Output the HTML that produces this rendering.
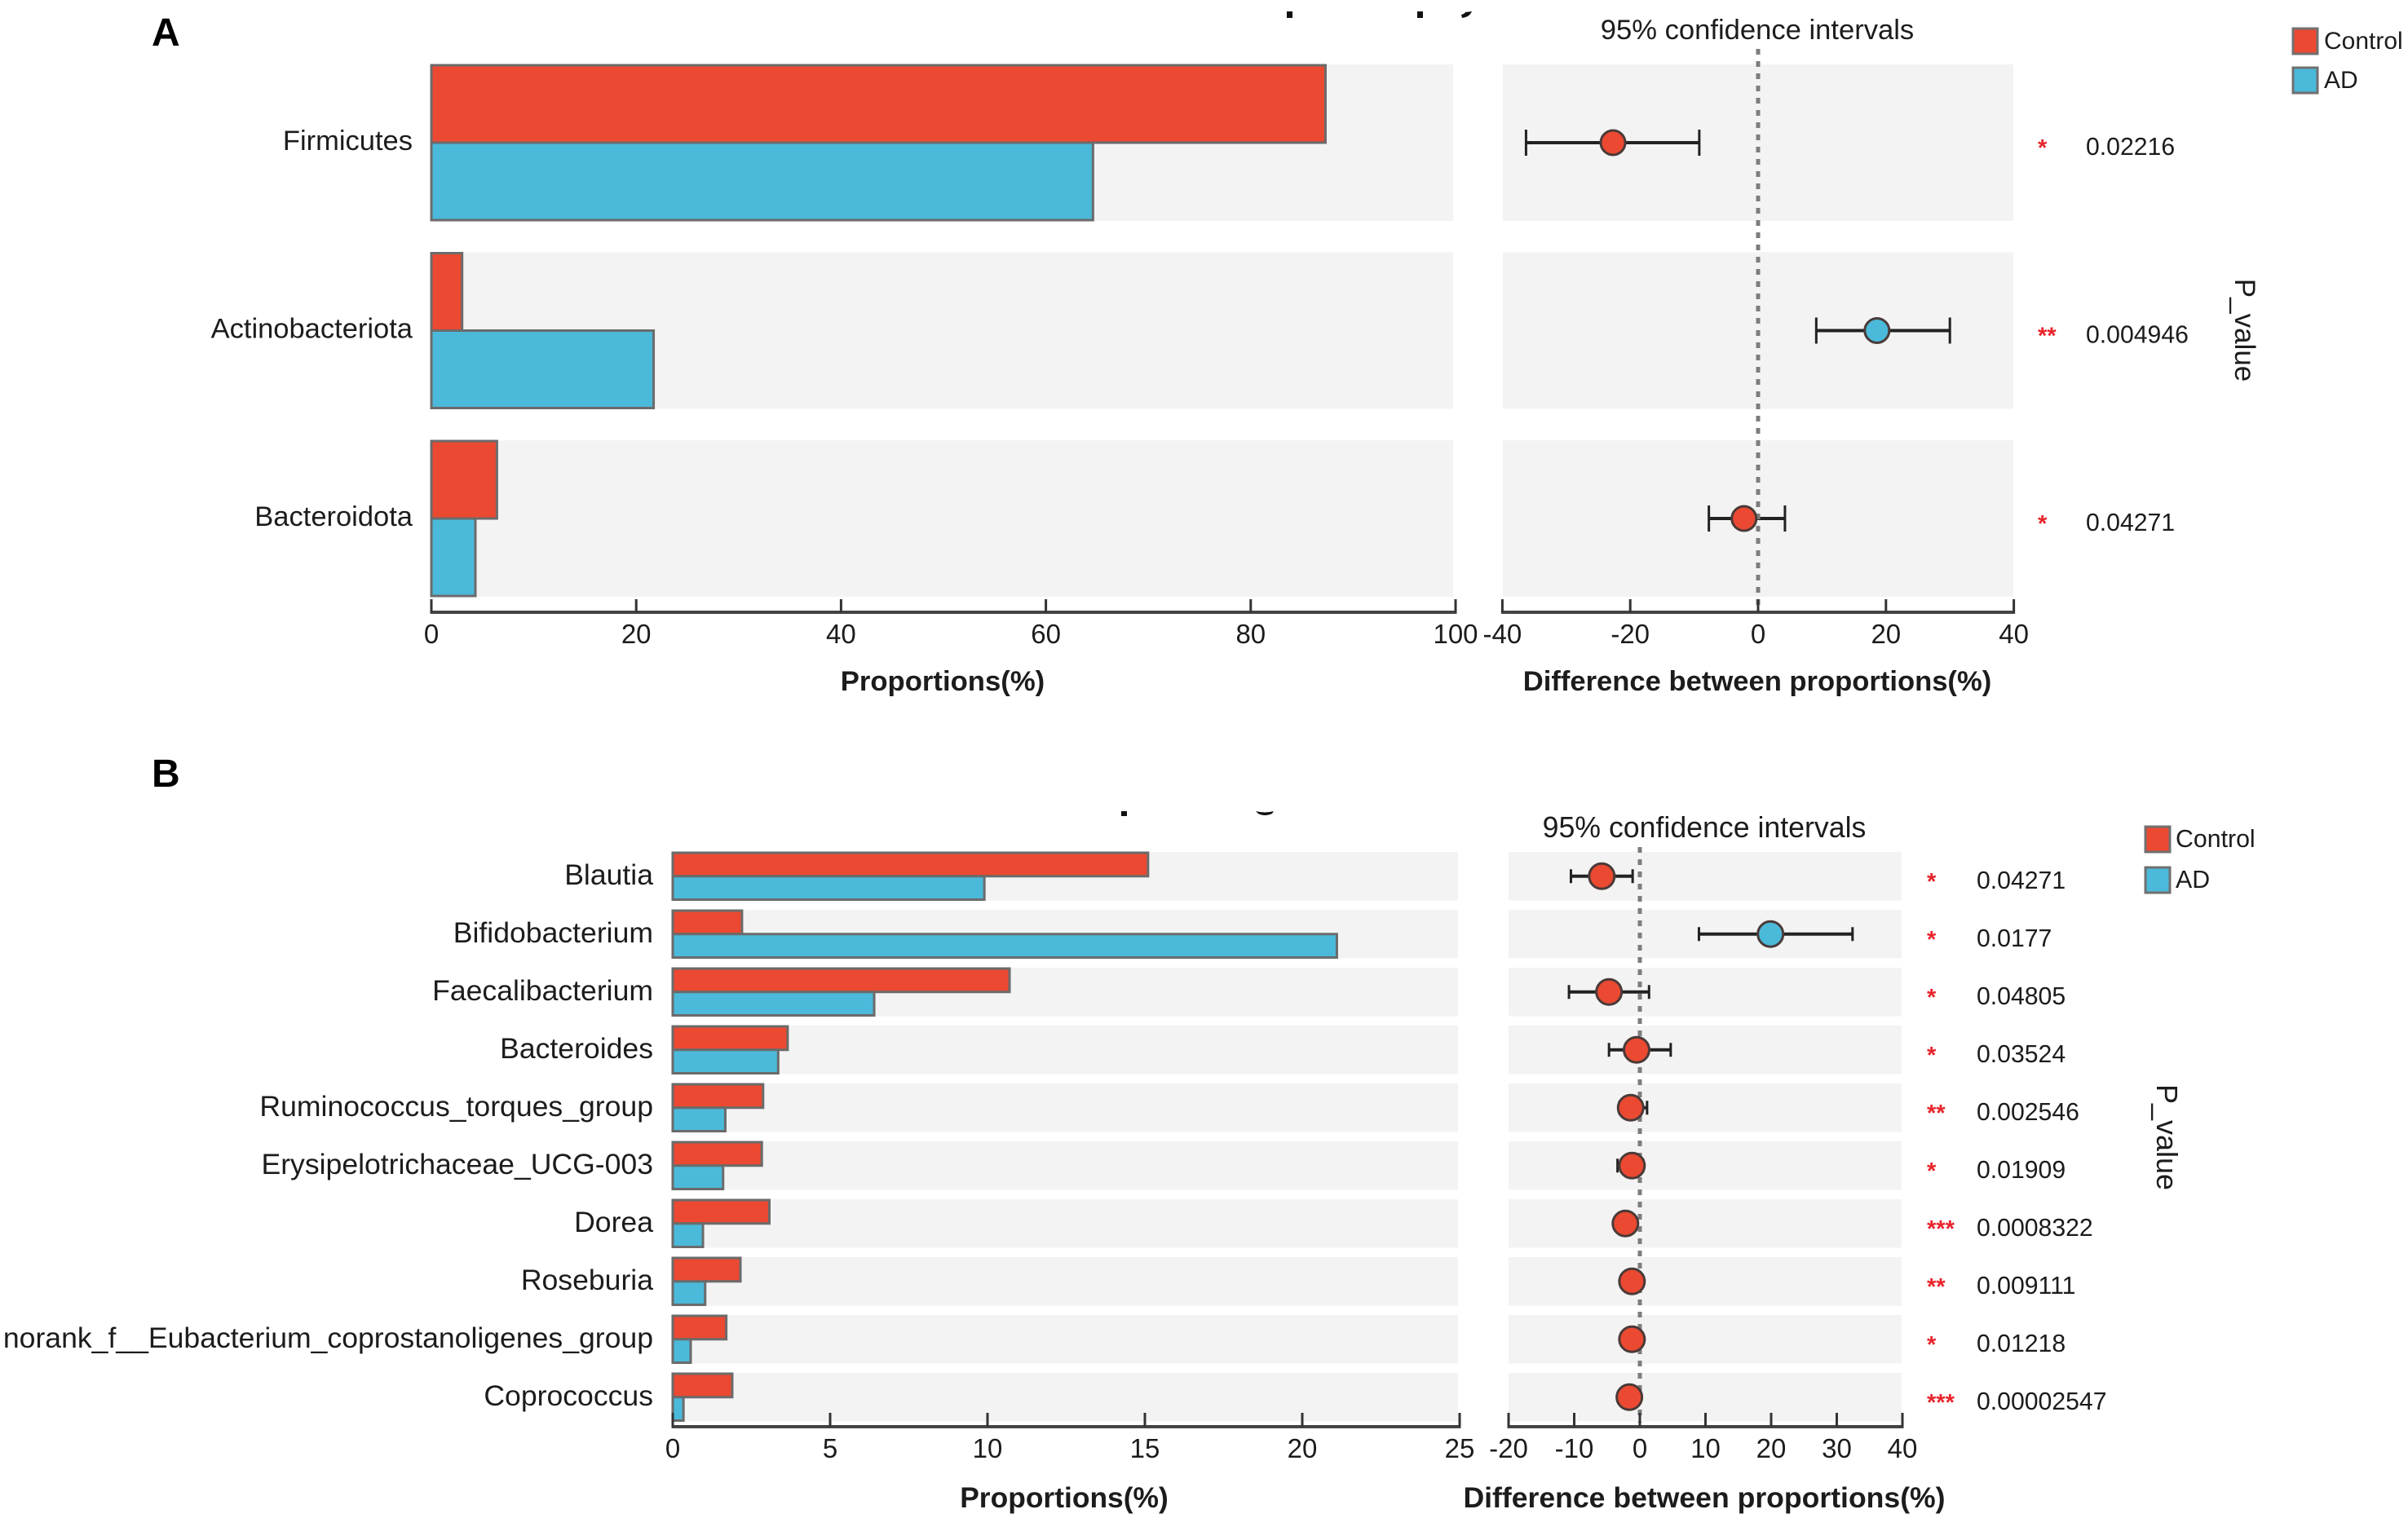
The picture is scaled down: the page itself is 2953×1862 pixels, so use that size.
<!DOCTYPE html>
<html lang="en">
<head>
<meta charset="utf-8">
<title>Taxonomic difference between Control and AD</title>
<style>
html,body{margin:0;padding:0;background:#fff;}
svg{display:block;}
text{font-family:"Liberation Sans",Arial,sans-serif;fill:#1c1c1c;}
</style>
</head>
<body>
<svg id="chart" xmlns="http://www.w3.org/2000/svg" width="2953" height="1862" viewBox="0 0 2953 1862">
  <rect x="0" y="0" width="2953" height="1862" fill="#ffffff"/>
  <text x="186" y="56" font-size="48" font-weight="bold" style="fill:#000">A</text>
  <text x="186" y="965" font-size="48" font-weight="bold" style="fill:#000">B</text>
  <g fill="#111">
    <rect x="1578" y="14" width="7" height="8"/>
    <rect x="1738" y="14" width="7" height="8"/>
    <path d="M1793 22 Q1802 21 1805 14 L1797 15 Q1796 17 1792 18 Z"/>
  </g>
  <g fill="#111">
    <rect x="1375" y="995" width="7" height="6"/>
    <path d="M1540 995 Q1551 998 1562 995 L1560 998 Q1551 1002 1543 998 Z"/>
  </g>
  <g>
    <rect x="2812" y="35" width="30" height="31" fill="#EB4931" stroke="#707070" stroke-width="3"/>
    <text x="2850" y="60" font-size="30">Control</text>
    <rect x="2812" y="83" width="30" height="31" fill="#4BB9D9" stroke="#707070" stroke-width="3"/>
    <text x="2850" y="108" font-size="30">AD</text>
  </g>
  <g>
    <rect x="2631" y="1014" width="30" height="31" fill="#EB4931" stroke="#707070" stroke-width="3"/>
    <text x="2668" y="1039" font-size="30.3">Control</text>
    <rect x="2631" y="1064" width="30" height="31" fill="#4BB9D9" stroke="#707070" stroke-width="3"/>
    <text x="2668" y="1089" font-size="30.3">AD</text>
  </g>
  <text x="2155" y="48" font-size="34.6" text-anchor="middle">95% confidence intervals</text>
  <text x="2090" y="1027" font-size="35.7" text-anchor="middle">95% confidence intervals</text>
  <text x="1156" y="847" font-size="34.7" font-weight="bold" text-anchor="middle">Proportions(%)</text>
  <text x="2155" y="847" font-size="34.6" font-weight="bold" text-anchor="middle">Difference between proportions(%)</text>
  <text x="1305" y="1849" font-size="35.4" font-weight="bold" text-anchor="middle">Proportions(%)</text>
  <text x="2090" y="1849" font-size="35.6" font-weight="bold" text-anchor="middle">Difference between proportions(%)</text>
  <text transform="translate(2741 405) rotate(90)" font-size="35" text-anchor="middle">P_value</text>
  <text transform="translate(2645 1395) rotate(90)" font-size="36" text-anchor="middle">P_value</text>
</svg>
<script>
// Panel A data
const aCategories = ["Firmicutes", "Actinobacteriota", "Bacteroidota"];
const aControl = [87.3, 3.0, 6.4];
const aAD = [64.6, 21.7, 4.3];
const aDiff = [-22.7, 18.6, -2.2];
const aCiLow = [-36.3, 9.1, -7.7];
const aCiHigh = [-9.2, 30, 4.2];
const aPValues = ["0.02216", "0.004946", "0.04271"];
const aStars = ["*", "**", "*"];
const aPropTicks = [0, 20, 40, 60, 80, 100];
const aDiffTicks = [-40, -20, 0, 20, 40];

// Panel B data
const bCategories = ["Blautia", "Bifidobacterium", "Faecalibacterium", "Bacteroides", "Ruminococcus_torques_group", "Erysipelotrichaceae_UCG-003", "Dorea", "Roseburia", "norank_f__Eubacterium_coprostanoligenes_group", "Coprococcus"];
const bControl = [15.1, 2.2, 10.7, 3.65, 2.87, 2.83, 3.07, 2.15, 1.7, 1.89];
const bAD = [9.9, 21.1, 6.4, 3.35, 1.67, 1.6, 0.96, 1.03, 0.57, 0.34];
const bDiff = [-5.8, 19.9, -4.7, -0.5, -1.4, -1.2, -2.2, -1.2, -1.2, -1.6];
const bCiLow = [-10.5, 9, -10.8, -4.7, -3.1, -3.4, -3.5, -2.5, -2.6, -3];
const bCiHigh = [-1.1, 32.4, 1.4, 4.7, 1.1, 0.5, -0.8, 0.1, 0.1, -0.2];
const bPValues = ["0.04271", "0.0177", "0.04805", "0.03524", "0.002546", "0.01909", "0.0008322", "0.009111", "0.01218", "0.00002547"];
const bStars = ["*", "*", "*", "*", "**", "*", "***", "**", "*", "***"];
const bPropTicks = [0, 5, 10, 15, 20, 25];
const bDiffTicks = [-20, -10, 0, 10, 20, 30, 40];

const RED = "#EB4931";
const BLUE = "#4BB9D9";
const SVG_NS = "http://www.w3.org/2000/svg";
const svg = document.getElementById("chart");

function make(tag, attrs, parent, text) {
  const node = document.createElementNS(SVG_NS, tag);
  for (const k in attrs) node.setAttribute(k, attrs[k]);
  if (text !== undefined) node.textContent = text;
  parent.appendChild(node);
  return node;
}

function drawPanel(p, d) {
  const xProp = v => p.propX0 + v * p.propScale;
  const xDiff = v => p.diffX0 + v * p.diffScale;
  const rowTop = i => p.top + i * p.pitch;
  const rowMid = i => rowTop(i) + p.rowH / 2;

  const root = make("g", {}, svg);
  
  

  d.categories.forEach(function (name, i) {
    const slug = name.toLowerCase().replace(/[^a-z0-9]+/g, '-');
    const row = make("g", {}, root);
    
    

    const bgL = make("rect", {x: p.bgL0, y: rowTop(i), width: p.bgL1 - p.bgL0, height: p.rowH, fill: "#F3F3F3"}, row);
    
    

    const bgR = make("rect", {x: p.bgR0, y: rowTop(i), width: p.bgR1 - p.bgR0, height: p.rowH, fill: "#F3F3F3"}, row);
    
    

    const label = make("text", {x: p.labelX, y: rowMid(i) + p.labelDy, "font-size": p.labelSize, "text-anchor": "end"}, row, name);
    
    

    const barC = make("rect", {x: xProp(0), y: rowTop(i) + 1, width: xProp(d.control[i]) - xProp(0), height: p.rowH / 2 - 1, fill: RED, stroke: "#6b6b6b", "stroke-width": 3}, row);
    
    

    const barA = make("rect", {x: xProp(0), y: rowMid(i), width: xProp(d.ad[i]) - xProp(0), height: p.rowH / 2 - 1, fill: BLUE, stroke: "#6b6b6b", "stroke-width": 3}, row);
    
    

    const ciLine = make("line", {x1: xDiff(d.ciLow[i]), x2: xDiff(d.ciHigh[i]), y1: rowMid(i), y2: rowMid(i), stroke: "#222", "stroke-width": 4}, row);
    
    

    const capL = make("line", {x1: xDiff(d.ciLow[i]), x2: xDiff(d.ciLow[i]), y1: rowMid(i) - p.capH / 2, y2: rowMid(i) + p.capH / 2, stroke: "#222", "stroke-width": 3}, row);
    
    

    const capH = make("line", {x1: xDiff(d.ciHigh[i]), x2: xDiff(d.ciHigh[i]), y1: rowMid(i) - p.capH / 2, y2: rowMid(i) + p.capH / 2, stroke: "#222", "stroke-width": 3}, row);
    
    

    const star = make("text", {x: p.starX, y: rowMid(i) + p.starDy, "font-size": 29, "font-weight": "bold", style: "fill:#E8242C"}, row, d.stars[i]);
    
    

    const pv = make("text", {x: p.pX, y: rowMid(i) + p.pDy, "font-size": 30.2}, row, d.pValues[i]);
    
    
  });

  const zero = make("line", {x1: xDiff(0), x2: xDiff(0), y1: p.dashTop, y2: p.dashBottom, stroke: "#7d7d7d", "stroke-width": 5, "stroke-dasharray": "7 8"}, root);
  
  

  d.categories.forEach(function (name, i) {
    const point = make("circle", {cx: xDiff(d.diff[i]), cy: rowMid(i), r: p.pointR, fill: d.diff[i] > 0 ? BLUE : RED, stroke: "#4a3a38", "stroke-width": 3}, root);
    
    
  });

  const axisL = make("line", {x1: xProp(d.propTicks[0]) - 1.5, x2: xProp(d.propTicks[d.propTicks.length - 1]) + 1.5, y1: p.axisY, y2: p.axisY, stroke: "#444", "stroke-width": 4}, root);
  
  

  const axisR = make("line", {x1: xDiff(d.diffTicks[0]) - 1.5, x2: xDiff(d.diffTicks[d.diffTicks.length - 1]) + 1.5, y1: p.axisY, y2: p.axisY, stroke: "#444", "stroke-width": 4}, root);
  
  

  d.propTicks.forEach(function (v) {
    const tick = make("line", {x1: xProp(v), x2: xProp(v), y1: p.axisY - p.tickLen, y2: p.axisY, stroke: "#333", "stroke-width": 3}, root);
    
    
    const t = make("text", {x: xProp(v), y: p.axisY + 38, "font-size": 33, "text-anchor": "middle"}, root, String(v));
    
    
  });

  d.diffTicks.forEach(function (v) {
    const tick = make("line", {x1: xDiff(v), x2: xDiff(v), y1: p.axisY - p.tickLen, y2: p.axisY, stroke: "#333", "stroke-width": 3}, root);
    
    
    const t = make("text", {x: xDiff(v), y: p.axisY + 38, "font-size": 33, "text-anchor": "middle"}, root, String(v));
    
    
  });
}

drawPanel(
  {id: "a", propX0: 529, propScale: 12.56, diffX0: 2156, diffScale: 7.84, top: 79, pitch: 230.5, rowH: 192,
   bgL0: 528, bgL1: 1782, bgR0: 1843, bgR1: 2469, labelX: 506, labelSize: 34.5, labelDy: 9, starX: 2499, starDy: 16, pX: 2558, pDy: 15,
   capH: 32, pointR: 15, axisY: 751, tickLen: 16, dashTop: 60, dashBottom: 742},
  {categories: aCategories, control: aControl, ad: aAD, diff: aDiff, ciLow: aCiLow, ciHigh: aCiHigh, pValues: aPValues, stars: aStars, propTicks: aPropTicks, diffTicks: aDiffTicks}
);

drawPanel(
  {id: "b", propX0: 825, propScale: 38.6, diffX0: 2011, diffScale: 8.05, top: 1045, pitch: 71, rowH: 59.5,
   bgL0: 823, bgL1: 1788, bgR0: 1850, bgR1: 2332, labelX: 801, labelSize: 35.6, labelDy: 10, starX: 2363, starDy: 16, pX: 2424, pDy: 15,
   capH: 17, pointR: 15.5, axisY: 1750, tickLen: 17, dashTop: 1039, dashBottom: 1745},
  {categories: bCategories, control: bControl, ad: bAD, diff: bDiff, ciLow: bCiLow, ciHigh: bCiHigh, pValues: bPValues, stars: bStars, propTicks: bPropTicks, diffTicks: bDiffTicks}
);
</script>
</body>
</html>
